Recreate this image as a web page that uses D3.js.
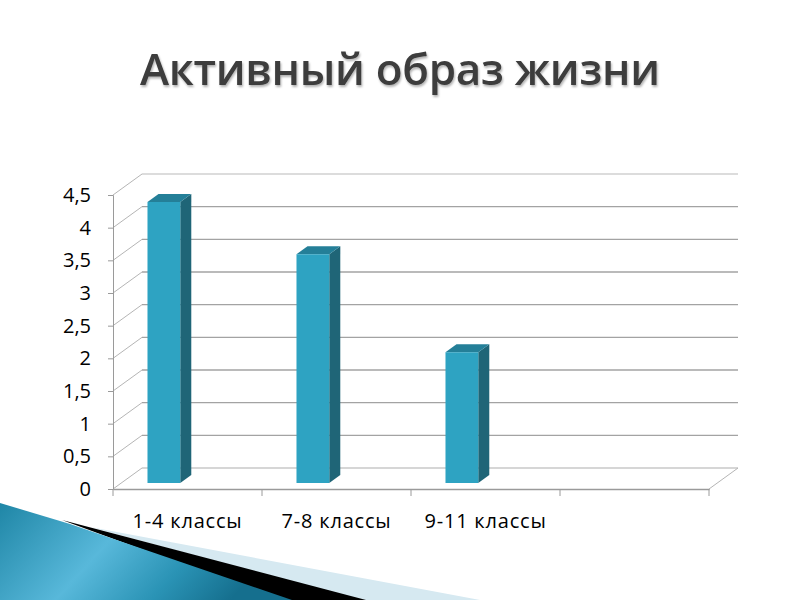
<!DOCTYPE html>
<html><head><meta charset="utf-8">
<script src="https://cdn.jsdelivr.net/npm/d3@7"></script>
<style>body{margin:0;background:#fff}svg{display:block}</style>
</head><body>
<svg id="c" width="800" height="600"></svg>
<script>
const title = "Активный образ жизни";
const categories = ["1-4 классы", "7-8 классы", "9-11 классы", ""];
const values = [4.3, 3.5, 2.0, null];
const yTicks = [0, 0.5, 1, 1.5, 2, 2.5, 3, 3.5, 4, 4.5];

const svg = d3.select("#c");
const defs = svg.append("defs");

// decoration gradient
const g1 = defs.append("linearGradient").attr("id","teal").attr("x1","0").attr("y1","0").attr("x2","1").attr("y2","0.3");
[[0,"#1f86a6"],[0.45,"#58b8da"],[0.75,"#2a93b5"],[1,"#156f8e"]].forEach(s=>g1.append("stop").attr("offset",s[0]).attr("stop-color",s[1]));

// decoration shapes
svg.append("path").attr("d","M90,527 L480,600 L360,600 Z").attr("fill","#d6e9f1");
svg.append("path").attr("d","M62,520 L366,600 L280,600 Z").attr("fill","#000");
svg.append("path").attr("d","M0,503 L70,524 L292,600 L0,600 Z").attr("fill","url(#teal)");

// title
const tf = svg.append("filter").attr("id","sh").attr("x","-5%").attr("y","-20%").attr("width","110%").attr("height","140%");
tf.append("feDropShadow").attr("dx",1).attr("dy",2).attr("stdDeviation",1.2).attr("flood-color","#000").attr("flood-opacity",0.3);
svg.append("text").attr("x",400).attr("y",85).attr("text-anchor","middle")
  .attr("font-family","'Open Sans', 'Noto Sans', sans-serif").attr("font-size",44).attr("font-weight",600)
  .attr("fill","#3c3c3c").attr("filter","url(#sh)")
  .attr("textLength",520).attr("lengthAdjust","spacing")
  .text(title);

// chart geometry
const x = d3.scaleBand().domain(categories).range([113, 709]).padding(0);
const y = d3.scaleLinear().domain([0, 4.5]).range([489, 195]);
const DX = 29, DY = -21;   // depth offset of the back wall
const P = (px, py, d) => [px + DX*d, py + DY*d];

const chart = svg.append("g");

// back wall gridlines
yTicks.forEach((t,i) => {
  const a = P(x.range()[0], y(t), 1), b = P(x.range()[1], y(t), 1);
  chart.append("line").attr("x1",a[0]).attr("y1",a[1]).attr("x2",b[0]).attr("y2",b[1])
    .attr("stroke", i===yTicks.length-1 ? "#d0d0d0" : (t===0 ? "#c8c8c8" : "#a3a3a3")).attr("stroke-width",1.3);
  const c = P(x.range()[0], y(t), 0);
  chart.append("line").attr("x1",c[0]).attr("y1",c[1]).attr("x2",a[0]).attr("y2",a[1])
    .attr("stroke","#b5b5b5").attr("stroke-width",1);
});
{
  const a = P(x.range()[1], y(0), 0), b = P(x.range()[1], y(0), 1);
  chart.append("line").attr("x1",a[0]).attr("y1",a[1]).attr("x2",b[0]).attr("y2",b[1]).attr("stroke","#b5b5b5");
}

// axes
const yAxis = d3.axisLeft(y).tickValues(yTicks).tickSize(5).tickPadding(17)
  .tickFormat(d => d3.format("")(d).replace(".", ","));
const ya = chart.append("g").attr("transform", `translate(${x.range()[0]},0)`).call(yAxis);
ya.select(".domain").attr("stroke","#9a9a9a");
ya.selectAll(".tick line").attr("stroke","#9a9a9a");
ya.selectAll("text").attr("font-family","'Open Sans', 'Noto Sans', sans-serif").attr("font-size",20).attr("fill","#000");

const xAxis = d3.axisBottom(x).tickSize(0).tickPadding(25);
const xa = chart.append("g").attr("transform", `translate(0,${y(0)})`).call(xAxis);
xa.select(".domain").attr("stroke","#9a9a9a").attr("stroke-width",1.3);
xa.selectAll("text").attr("font-family","'Open Sans', 'Noto Sans', sans-serif").attr("font-size",20)
  .attr("letter-spacing",0.8).attr("fill","#000");
const bounds = categories.map(c => x(c)).concat([x.range()[1]]);
xa.selectAll(".btick").data(bounds).join("line").attr("class","btick")
  .attr("x1",d=>d).attr("x2",d=>d).attr("y1",0).attr("y2",7).attr("stroke","#9a9a9a");

// 3D bars
const bw = x.bandwidth();
const d0 = 0.29, d1 = 0.67;
const bars = chart.append("g").selectAll("g").data(categories.map((c,i)=>({c, v: values[i]})).filter(d=>d.v!=null)).join("g");
bars.each(function(d){
  const g = d3.select(this);
  const xl = x(d.c) + bw*0.175, xr = xl + bw*0.22;
  const yt = y(d.v), yb = y(0);
  const f = [P(xl,yt,d0),P(xr,yt,d0),P(xr,yb,d0),P(xl,yb,d0)];
  const side = [P(xr,yt,d0),P(xr,yt,d1),P(xr,yb,d1),P(xr,yb,d0)];
  const top = [P(xl,yt,d0),P(xl,yt,d1),P(xr,yt,d1),P(xr,yt,d0)];
  const line = d3.line();
  g.append("path").attr("d", line(side)+"Z").attr("fill","#1f6577");
  g.append("path").attr("d", line(top)+"Z").attr("fill","#247f98");
  g.append("path").attr("d", line(f)+"Z").attr("fill","#2ea3c2");
});
</script>
</body></html>
